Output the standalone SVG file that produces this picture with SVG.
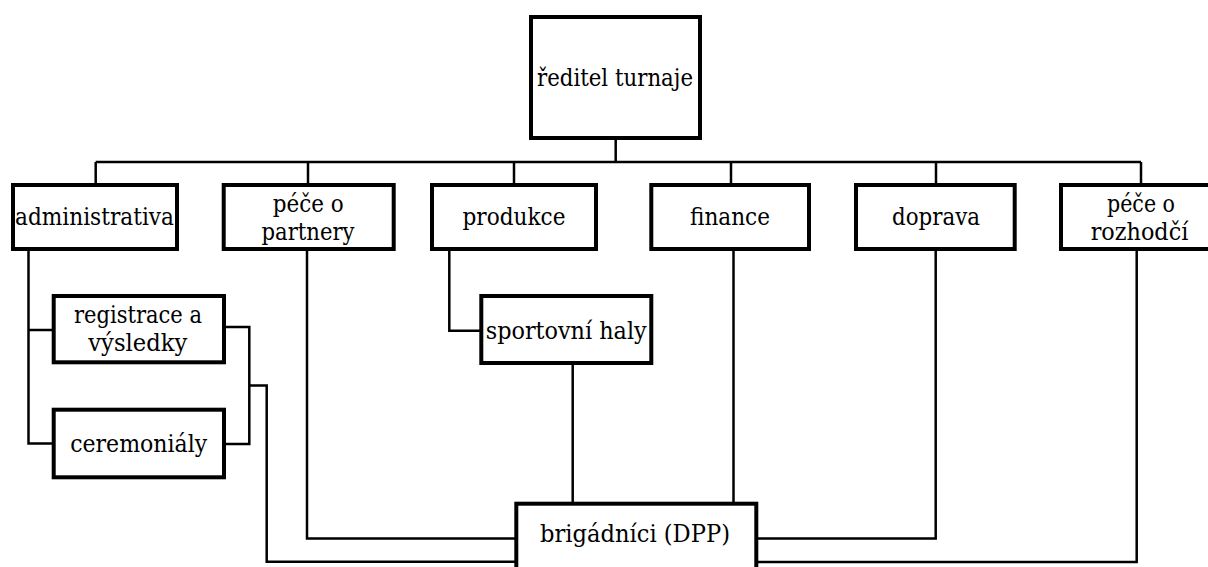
<svg xmlns="http://www.w3.org/2000/svg" width="1208" height="567" viewBox="0 0 1208 567">
<style>
.box{fill:#fff;stroke:#000;stroke-width:4}
text{font-family:'DejaVu Serif','Liberation Serif',serif;font-size:25px;fill:#000;text-anchor:middle}
.con{fill:none;stroke:#000;stroke-width:2.5;stroke-linejoin:miter}
</style>
<rect width="1208" height="567" fill="#fff"/>
<g id="connectors">
<path class="con" d="M615.7 140 V162"/>
<path class="con" d="M95.7 162 H1141"/>
<path class="con" d="M95.7 162 V184"/>
<path class="con" d="M308 162 V184"/>
<path class="con" d="M514 162 V184"/>
<path class="con" d="M731 162 V184"/>
<path class="con" d="M936 162 V184"/>
<path class="con" d="M1141 162 V184"/>
<path class="con" d="M28.5 250 V443.5 H53"/>
<path class="con" d="M28.5 330 H53"/>
<path class="con" d="M225 327 H249.3 V444 H225"/>
<path class="con" d="M249.3 385.5 H266.7 V561.7 H516"/>
<path class="con" d="M307 250 V538.5 H516"/>
<path class="con" d="M449.3 250 V330.7 H481"/>
<path class="con" d="M572.7 364 V503"/>
<path class="con" d="M733.5 250 V503"/>
<path class="con" d="M757 538.5 H935.7 V250"/>
<path class="con" d="M757 562 H1136.7 V250"/>
</g>
<g id="reditel"><rect class="box" x="531" y="17" width="169" height="121"/><text x="615" y="86" textLength="156" lengthAdjust="spacingAndGlyphs">ředitel turnaje</text></g>
<g id="administrativa"><rect class="box" x="13" y="185" width="164" height="64"/><text x="94.5" y="225" textLength="159" lengthAdjust="spacingAndGlyphs">administrativa</text></g>
<g id="pece-partnery"><rect class="box" x="223.7" y="185" width="170" height="64"/><text x="308.3" y="212" textLength="71" lengthAdjust="spacingAndGlyphs">péče o</text><text x="308" y="240" textLength="93" lengthAdjust="spacingAndGlyphs">partnery</text></g>
<g id="produkce"><rect class="box" x="432" y="185" width="164" height="64"/><text x="514" y="225" textLength="103" lengthAdjust="spacingAndGlyphs">produkce</text></g>
<g id="finance"><rect class="box" x="651.3" y="185" width="157.7" height="64"/><text x="730" y="225" textLength="80" lengthAdjust="spacingAndGlyphs">finance</text></g>
<g id="doprava"><rect class="box" x="856" y="185" width="158.7" height="64"/><text x="936" y="225" textLength="88" lengthAdjust="spacingAndGlyphs">doprava</text></g>
<g id="pece-rozhodci"><rect class="box" x="1061" y="185" width="160" height="64"/><text x="1141" y="212" textLength="68" lengthAdjust="spacingAndGlyphs">péče o</text><text x="1139.5" y="240" textLength="97.6" lengthAdjust="spacingAndGlyphs">rozhodčí</text></g>
<g id="registrace"><rect class="box" x="53.7" y="296" width="170.3" height="66.3"/><text x="138" y="323" textLength="128" lengthAdjust="spacingAndGlyphs">registrace a</text><text x="137.8" y="351" textLength="99" lengthAdjust="spacingAndGlyphs">výsledky</text></g>
<g id="ceremonialy"><rect class="box" x="53.7" y="409.7" width="170.3" height="67.6"/><text x="138.7" y="451.5" textLength="137" lengthAdjust="spacingAndGlyphs">ceremoniály</text></g>
<g id="sportovni-haly"><rect class="box" x="481.3" y="296" width="170" height="67"/><text x="566.2" y="339" textLength="161" lengthAdjust="spacingAndGlyphs">sportovní haly</text></g>
<g id="brigadnici"><rect class="box" x="516.3" y="503.7" width="240" height="80"/><text x="635" y="541.5" textLength="190" lengthAdjust="spacingAndGlyphs">brigádníci (DPP)</text></g>
</svg>
